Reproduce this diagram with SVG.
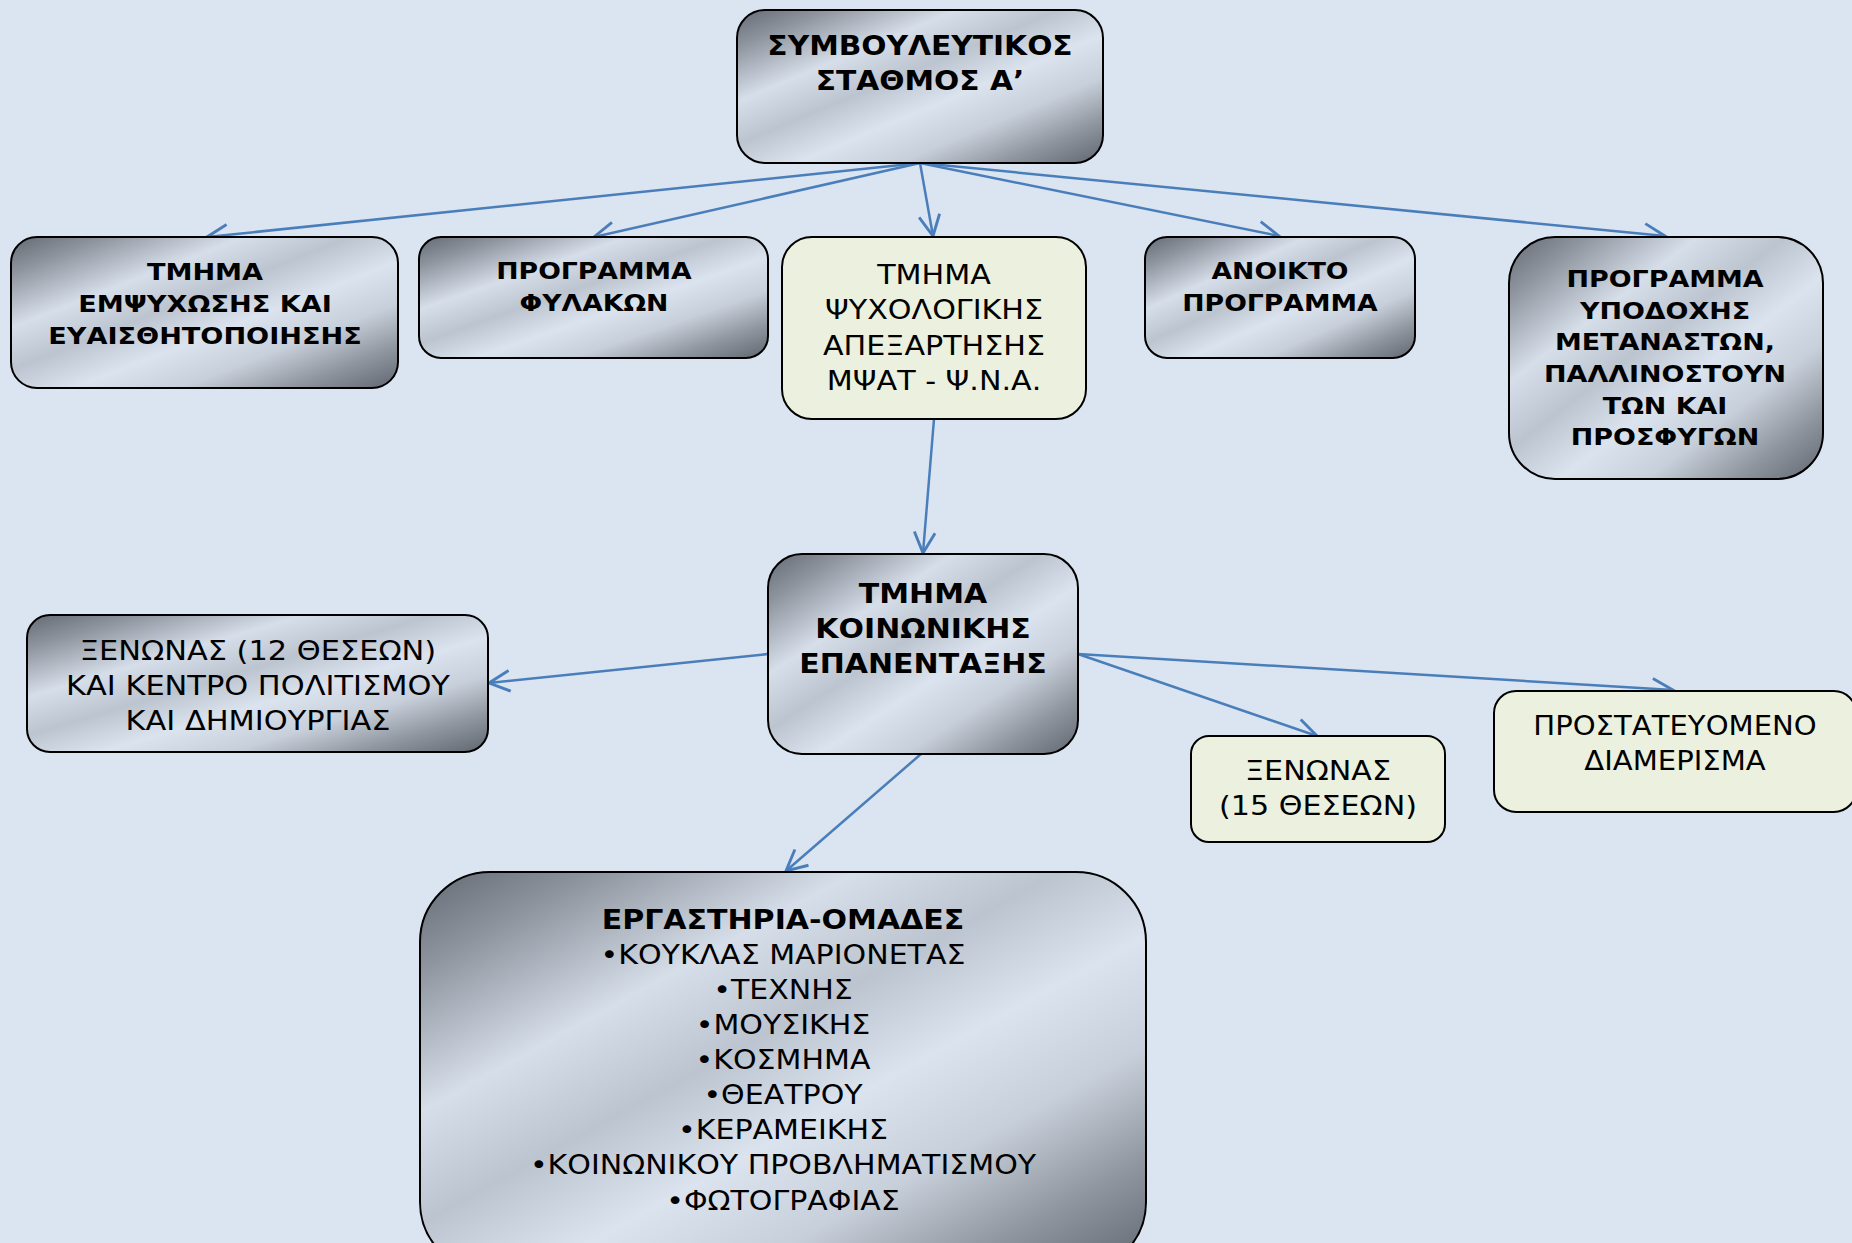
<svg xmlns="http://www.w3.org/2000/svg" width="1852" height="1243" viewBox="0 0 1852 1243">
<defs>
<linearGradient id="chrome" x1="0" y1="0" x2="1" y2="1">
<stop offset="0" stop-color="#646a74"/>
<stop offset="0.12" stop-color="#8d949e"/>
<stop offset="0.3" stop-color="#d6dee9"/>
<stop offset="0.44" stop-color="#bcc4cf"/>
<stop offset="0.58" stop-color="#dbe3ee"/>
<stop offset="0.72" stop-color="#c7cfda"/>
<stop offset="0.86" stop-color="#8f969f"/>
<stop offset="1" stop-color="#60666f"/>
</linearGradient>
<marker id="arr" markerUnits="userSpaceOnUse" markerWidth="30" markerHeight="30" viewBox="-22 -12 26 24" refX="0" refY="0" orient="auto">
<path d="M -18 -9 L 0 0 L -18 9" fill="none" stroke="#4a7ebb" stroke-width="2.5" stroke-linejoin="miter"/>
</marker>
</defs>
<style>
.chrome{fill:url(#chrome);stroke:#000;stroke-width:2}
.green{fill:#ebf1de;stroke:#000;stroke-width:2}
text{font-family:"DejaVu Sans","Verdana",sans-serif;fill:#000;text-anchor:middle}
.b{font-weight:bold}
.big{font-size:27px}
.mid{font-size:23px}
.reg{font-size:26px}
.conn line{stroke:#4a7ebb;stroke-width:2.5;fill:none;marker-end:url(#arr)}
</style>
<rect x="0" y="0" width="1852" height="1243" fill="#dbe5f1"/>

<g id="connectors" class="conn">
<line x1="920" y1="163" x2="207" y2="237"/>
<line x1="920" y1="163" x2="594" y2="237"/>
<line x1="920" y1="163" x2="933" y2="236"/>
<line x1="920" y1="163" x2="1279" y2="236"/>
<line x1="920" y1="163" x2="1665" y2="236"/>
<line x1="934" y1="419" x2="923" y2="553"/>
<line x1="768" y1="654" x2="489" y2="683"/>
<line x1="1078" y1="654" x2="1317" y2="736"/>
<line x1="1078" y1="654" x2="1673" y2="690"/>
<line x1="921" y1="754" x2="786" y2="871"/>
</g>

<g id="node-top">
<rect class="chrome" x="737" y="10" width="366" height="153" rx="28"/>
<g transform="translate(920 0) scale(1.1 1)">
<text class="b big" x="0" y="55">ΣΥΜΒΟΥΛΕΥΤΙΚΟΣ</text>
<text class="b big" x="0" y="90">ΣΤΑΘΜΟΣ Α’</text>
</g>
</g>

<g id="node-empsychosis">
<rect class="chrome" x="11" y="237" width="387" height="151" rx="26"/>
<g transform="translate(205 0) scale(1.18 1)">
<text class="b mid" x="0" y="280">ΤΜΗΜΑ</text>
<text class="b mid" x="0" y="312">ΕΜΨΥΧΩΣΗΣ ΚΑΙ</text>
<text class="b mid" x="0" y="344">ΕΥΑΙΣΘΗΤΟΠΟΙΗΣΗΣ</text>
</g>
</g>

<g id="node-fylakon">
<rect class="chrome" x="419" y="237" width="349" height="121" rx="22"/>
<g transform="translate(594 0) scale(1.16 1)">
<text class="b mid" x="0" y="279">ΠΡΟΓΡΑΜΜΑ</text>
<text class="b mid" x="0" y="311">ΦΥΛΑΚΩΝ</text>
</g>
</g>

<g id="node-psychologikis">
<rect class="green" x="782" y="237" width="304" height="182" rx="30"/>
<g transform="translate(934 0) scale(1.16 1)">
<text class="reg" x="0" y="284">ΤΜΗΜΑ</text>
<text class="reg" x="0" y="319">ΨΥΧΟΛΟΓΙΚΗΣ</text>
<text class="reg" x="0" y="355">ΑΠΕΞΑΡΤΗΣΗΣ</text>
<text class="reg" x="0" y="390">ΜΨΑΤ - Ψ.Ν.Α.</text>
</g>
</g>

<g id="node-anoikto">
<rect class="chrome" x="1145" y="237" width="270" height="121" rx="22"/>
<g transform="translate(1280 0) scale(1.16 1)">
<text class="b mid" x="0" y="279">ΑΝΟΙΚΤΟ</text>
<text class="b mid" x="0" y="311">ΠΡΟΓΡΑΜΜΑ</text>
</g>
</g>

<g id="node-ypodoxis">
<rect class="chrome" x="1509" y="237" width="314" height="242" rx="46"/>
<g transform="translate(1665 0) scale(1.17 1)">
<text class="b mid" x="0" y="287">ΠΡΟΓΡΑΜΜΑ</text>
<text class="b mid" x="0" y="319">ΥΠΟΔΟΧΗΣ</text>
<text class="b mid" x="0" y="350">ΜΕΤΑΝΑΣΤΩΝ,</text>
<text class="b mid" x="0" y="382">ΠΑΛΛΙΝΟΣΤΟΥΝ</text>
<text class="b mid" x="0" y="414">ΤΩΝ ΚΑΙ</text>
<text class="b mid" x="0" y="445">ΠΡΟΣΦΥΓΩΝ</text>
</g>
</g>

<g id="node-koinonikis">
<rect class="chrome" x="768" y="554" width="310" height="200" rx="34"/>
<g transform="translate(923 0) scale(1.11 1)">
<text class="b big" x="0" y="603">ΤΜΗΜΑ</text>
<text class="b big" x="0" y="638">ΚΟΙΝΩΝΙΚΗΣ</text>
<text class="b big" x="0" y="673">ΕΠΑΝΕΝΤΑΞΗΣ</text>
</g>
</g>

<g id="node-xenonas12">
<rect class="chrome" x="27" y="615" width="461" height="137" rx="23"/>
<g transform="translate(258 0) scale(1.17 1)">
<text class="reg" x="0" y="660">ΞΕΝΩΝΑΣ (12 ΘΕΣΕΩΝ)</text>
<text class="reg" x="0" y="695">ΚΑΙ ΚΕΝΤΡΟ ΠΟΛΙΤΙΣΜΟΥ</text>
<text class="reg" x="0" y="730">ΚΑΙ ΔΗΜΙΟΥΡΓΙΑΣ</text>
</g>
</g>

<g id="node-xenonas15">
<rect class="green" x="1191" y="736" width="254" height="106" rx="18"/>
<g transform="translate(1318 0) scale(1.16 1)">
<text class="reg" x="0" y="780">ΞΕΝΩΝΑΣ</text>
<text class="reg" x="0" y="815">(15 ΘΕΣΕΩΝ)</text>
</g>
</g>

<g id="node-prostateuomeno">
<rect class="green" x="1494" y="691" width="362" height="121" rx="22"/>
<g transform="translate(1675 0) scale(1.12 1)">
<text class="reg" x="0" y="735">ΠΡΟΣΤΑΤΕΥΟΜΕΝΟ</text>
<text class="reg" x="0" y="770">ΔΙΑΜΕΡΙΣΜΑ</text>
</g>
</g>

<g id="node-ergastiria">
<rect class="chrome" x="420" y="872" width="726" height="400" rx="70"/>
<g transform="translate(783 0) scale(1.155 1)">
<text class="b reg" x="0" y="929">ΕΡΓΑΣΤΗΡΙΑ-ΟΜΑΔΕΣ</text>
<text class="reg" x="0" y="964">•ΚΟΥΚΛΑΣ ΜΑΡΙΟΝΕΤΑΣ</text>
<text class="reg" x="0" y="999">•ΤΕΧΝΗΣ</text>
<text class="reg" x="0" y="1034">•ΜΟΥΣΙΚΗΣ</text>
<text class="reg" x="0" y="1069">•ΚΟΣΜΗΜΑ</text>
<text class="reg" x="0" y="1104">•ΘΕΑΤΡΟΥ</text>
<text class="reg" x="0" y="1139">•ΚΕΡΑΜΕΙΚΗΣ</text>
<text class="reg" x="0" y="1174">•ΚΟΙΝΩΝΙΚΟΥ ΠΡΟΒΛΗΜΑΤΙΣΜΟΥ</text>
<text class="reg" x="0" y="1210">•ΦΩΤΟΓΡΑΦΙΑΣ</text>
</g>
</g>
</svg>
